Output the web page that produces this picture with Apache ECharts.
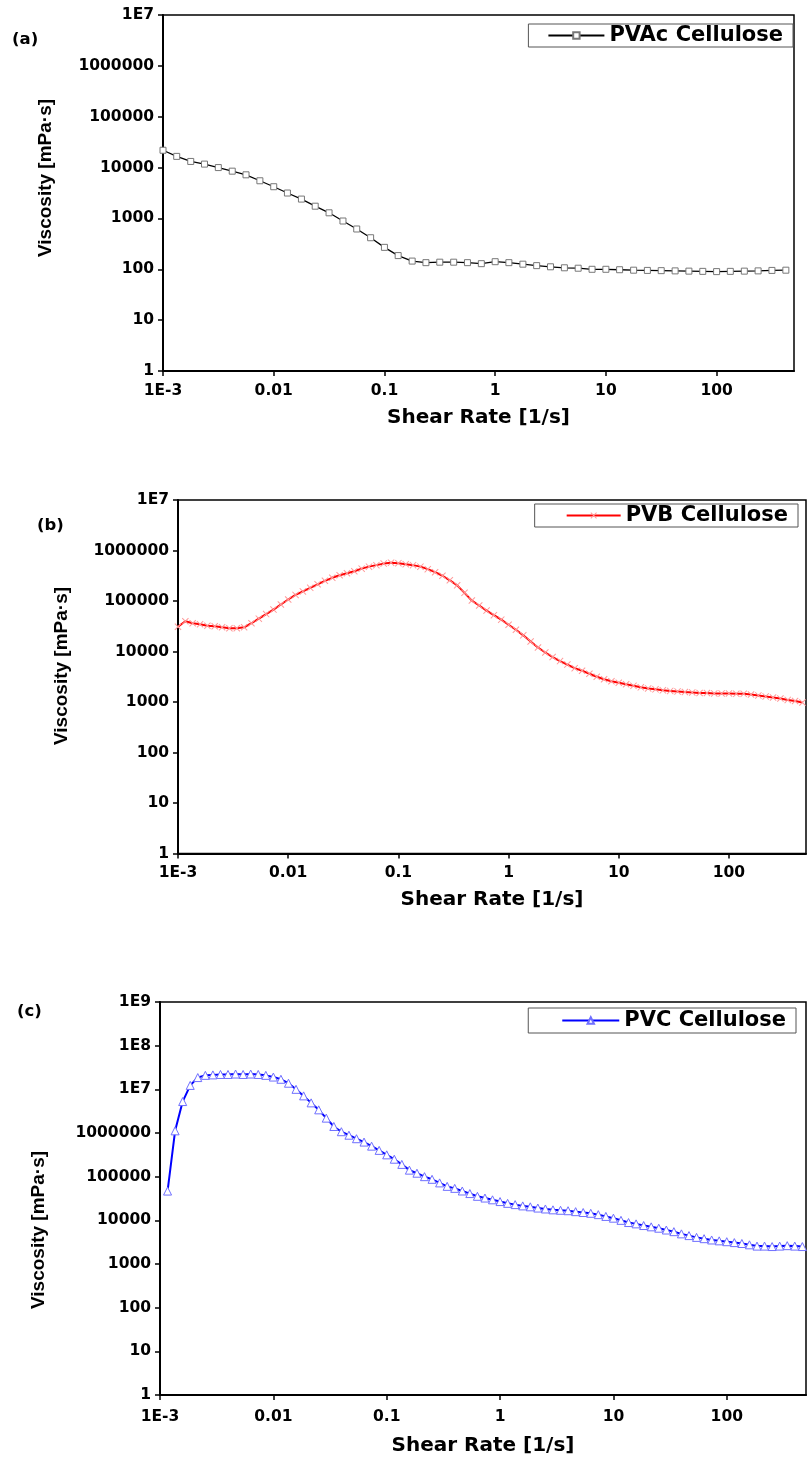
<!DOCTYPE html>
<html>
<head>
<meta charset="utf-8">
<script src="https://cdn.jsdelivr.net/npm/echarts@6/dist/echarts.min.js"></script>
<style>
  html, body { margin: 0; padding: 0; background: #ffffff; }
  #chart { width: 807px; height: 1473px; }
</style>
</head>
<body>
<div id="chart"></div>
<script>
// ---- Axis ticks -----------------------------------------------------------
const xTickValues = [0.001, 0.01, 0.1, 1, 10, 100];
const xTickLabels = ['1E-3', '0.01', '0.1', '1', '10', '100'];
const yTickLabels = ['1', '10', '100', '1000', '10000', '100000', '1000000', '1E7', '1E8', '1E9'];

// ---- (a) PVAc Cellulose ---------------------------------------------------
const shearRateA = [0.001, 0.00133, 0.00178, 0.00237, 0.00316, 0.00422, 0.00562, 0.0075,
  0.01, 0.0133, 0.0178, 0.0237, 0.0316, 0.0422, 0.0562, 0.075,
  0.1, 0.133, 0.178, 0.237, 0.316, 0.422, 0.562, 0.75,
  1, 1.33, 1.78, 2.37, 3.16, 4.22, 5.62, 7.5,
  10, 13.3, 17.8, 23.7, 31.6, 42.2, 56.2, 75,
  100, 133, 178, 237, 316, 422];
const viscosityA = [21900, 16600, 13200, 11700, 10000, 8500, 7200, 5500,
  4200, 3160, 2400, 1740, 1290, 890, 620, 417,
  270, 186, 145, 135, 138, 138, 135, 129,
  141, 135, 126, 118, 112, 107, 105, 100,
  100, 98, 96, 95, 94, 93, 92, 91,
  90, 91, 92, 93, 95, 96];

// ---- (b) PVB Cellulose ----------------------------------------------------
const shearRateB = [0.001, 0.001166, 0.001359, 0.001585, 0.001848, 0.002154, 0.002512, 0.002929, 0.003415, 0.003981, 0.004642, 0.005412, 0.00631, 0.007356, 0.008577,
  0.01, 0.01166, 0.01359, 0.01585, 0.01848, 0.02154, 0.02512, 0.02929, 0.03415, 0.03981, 0.04642, 0.05412, 0.0631, 0.07356, 0.08577,
  0.1, 0.1166, 0.1359, 0.1585, 0.1848, 0.2154, 0.2512, 0.2929, 0.3415, 0.3981, 0.4642, 0.5412, 0.631, 0.7356, 0.8577,
  1, 1.166, 1.359, 1.585, 1.848, 2.154, 2.512, 2.929, 3.415, 3.981, 4.642, 5.412, 6.31, 7.356, 8.577,
  10, 11.66, 13.59, 15.85, 18.48, 21.54, 25.12, 29.29, 34.15, 39.81, 46.42, 54.12, 63.1, 73.56, 85.77,
  100, 116.6, 135.9, 158.5, 184.8, 215.4, 251.2, 292.9, 341.5, 398.1, 464.2];
const viscosityB = [30900, 39800, 36300, 34700, 32400, 31600, 30200, 28800, 28800, 30200, 36300, 44700, 55000, 67600, 85100,
  107000, 132000, 155000, 182000, 214000, 251000, 288000, 324000, 355000, 389000, 437000, 479000, 513000, 550000, 575000,
  562000, 537000, 513000, 479000, 427000, 372000, 316000, 257000, 204000, 145000, 102000, 81300, 64600, 52500, 42700,
  33900, 26900, 20900, 15800, 12000, 9550, 7760, 6460, 5500, 4680, 4170, 3630, 3160, 2820, 2570,
  2400, 2240, 2090, 1950, 1860, 1780, 1700, 1660, 1620, 1580, 1550, 1510, 1510, 1480, 1480,
  1480, 1450, 1450, 1410, 1350, 1290, 1230, 1170, 1100, 1050, 980];

// ---- (c) PVC Cellulose ----------------------------------------------------
const shearRateC = [0.001166, 0.001359, 0.001585, 0.001848, 0.002154, 0.002512, 0.002929, 0.003415, 0.003981, 0.004642, 0.005412, 0.00631, 0.007356, 0.008577,
  0.01, 0.01166, 0.01359, 0.01585, 0.01848, 0.02154, 0.02512, 0.02929, 0.03415, 0.03981, 0.04642, 0.05412, 0.0631, 0.07356, 0.08577,
  0.1, 0.1166, 0.1359, 0.1585, 0.1848, 0.2154, 0.2512, 0.2929, 0.3415, 0.3981, 0.4642, 0.5412, 0.631, 0.7356, 0.8577,
  1, 1.166, 1.359, 1.585, 1.848, 2.154, 2.512, 2.929, 3.415, 3.981, 4.642, 5.412, 6.31, 7.356, 8.577,
  10, 11.66, 13.59, 15.85, 18.48, 21.54, 25.12, 29.29, 34.15, 39.81, 46.42, 54.12, 63.1, 73.56, 85.77,
  100, 116.6, 135.9, 158.5, 184.8, 215.4, 251.2, 292.9, 341.5, 398.1, 464.2];
const viscosityC = [46800, 1120000, 5250000, 12300000, 18600000, 20900000, 21400000, 21900000, 21900000, 22400000, 21900000, 22400000, 21900000, 20900000,
  19100000, 17000000, 13800000, 10000000, 7080000, 4900000, 3390000, 2190000, 1410000, 1070000, 890000, 740000, 620000, 500000, 400000,
  316000, 251000, 191000, 141000, 120000, 100000, 87000, 72000, 60000, 54000, 47000, 41000, 35500, 32400, 29500,
  26900, 24500, 22900, 21400, 20400, 19100, 18200, 17400, 17000, 16600, 15800, 15100, 14500, 13500, 12300,
  11200, 10000, 8900, 8300, 7600, 7100, 6600, 6000, 5500, 4900, 4470, 4070, 3800, 3550, 3390,
  3240, 3090, 2950, 2750, 2570, 2570, 2510, 2570, 2630, 2570, 2510];

const pairs = (xs, ys) => xs.map((x, i) => [x, ys[i]]);

// ---- Shared styling --------------------------------------------------------
const WIDE_BOLD = 'DejaVu Sans';
const tickFont = { fontFamily: WIDE_BOLD, fontWeight: 'bold', fontSize: 15.5, color: '#000' };

function decade(v) {
  const e = Math.log10(v);
  const r = Math.round(e);
  return Math.abs(e - r) < 1e-6 ? r : null;
}

function makeXAxis(gridIndex, labelMargin, nameGap) {
  return {
    type: 'log', logBase: 10, gridIndex,
    min: 0.001, max: 500,
    splitLine: { show: false },
    minorTick: { show: false },
    axisLine: { onZero: false, lineStyle: { color: '#000', width: 2 } },
    axisTick: { length: 5, lineStyle: { color: '#000', width: 1.5 }, customValues: xTickValues },
    axisLabel: {
      ...tickFont, margin: labelMargin, customValues: xTickValues,
      formatter: v => { const d = decade(v); return d === null ? '' : (xTickLabels[d + 3] || ''); }
    },
    name: 'Shear Rate [1/s]', nameLocation: 'middle', nameGap,
    nameTextStyle: { fontFamily: WIDE_BOLD, fontWeight: 'bold', fontSize: 20, color: '#000' }
  };
}

function makeYAxis(gridIndex, max) {
  return {
    type: 'log', logBase: 10, gridIndex,
    min: 1, max,
    splitNumber: 10,
    splitLine: { show: false },
    minorTick: { show: false },
    axisLine: { lineStyle: { color: '#000', width: 2 } },
    axisTick: { length: 5, lineStyle: { color: '#000', width: 1.5 } },
    axisLabel: {
      ...tickFont, margin: 9,
      formatter: v => { const d = decade(v); return d === null ? '' : (yTickLabels[d] || ''); }
    }
  };
}

function makeLegend(name, right, top, padding, itemWidth) {
  return {
    data: [name], right, top, padding, itemWidth, itemHeight: 8,
    borderColor: '#555', borderWidth: 1, borderRadius: 0,
    backgroundColor: '#fff',
    textStyle: { fontFamily: WIDE_BOLD, fontWeight: 'bold', fontSize: 21, color: '#000' }
  };
}

function yTitle(x, y) {
  return {
    type: 'text', x, y, rotation: Math.PI / 2,
    style: {
      text: 'Viscosity [mPa·s]', fontFamily: 'Liberation Sans', fontWeight: 'bold', fontSize: 19,
      fill: '#000', align: 'center', verticalAlign: 'middle'
    }
  };
}

function panelTag(text, x, y) {
  return {
    type: 'text', x, y,
    style: { text, fontFamily: WIDE_BOLD, fontWeight: 'bold', fontSize: 16.5, fill: '#000', align: 'left', verticalAlign: 'middle' }
  };
}

const crossSymbol = 'path://M0,1L1,0L5,4L9,0L10,1L6,5L10,9L9,10L5,6L1,10L0,9L4,5Z';

const option = {
  backgroundColor: '#ffffff',
  animation: false,
  grid: [
    { left: 163, top: 15, width: 631, height: 356, show: true, borderColor: '#000', borderWidth: 1.5 },
    { left: 178, top: 500, width: 628, height: 353.5, show: true, borderColor: '#000', borderWidth: 1.5 },
    { left: 160, top: 1002, width: 646, height: 393, show: true, borderColor: '#000', borderWidth: 1.5 }
  ],
  xAxis: [makeXAxis(0, 12, 37), makeXAxis(1, 11, 36), makeXAxis(2, 14, 41)],
  yAxis: [makeYAxis(0, 1e7), makeYAxis(1, 1e7), makeYAxis(2, 1e9)],
  legend: [
    makeLegend('PVAc Cellulose', 14, 24, [1, 10, 1, 19], 56),
    makeLegend('PVB Cellulose', 9, 504, [1, 10, 1, 31], 54),
    makeLegend('PVC Cellulose', 11, 1008, [2, 10, 2, 33], 57)
  ],
  series: [
    {
      name: 'PVAc Cellulose', type: 'line', xAxisIndex: 0, yAxisIndex: 0,
      data: pairs(shearRateA, viscosityA),
      showAllSymbol: true, symbol: 'rect', symbolSize: 6,
      lineStyle: { color: '#000', width: 1.3 },
      itemStyle: { color: '#fff', borderColor: '#777', borderWidth: 1 }
    },
    {
      name: 'PVB Cellulose', type: 'line', xAxisIndex: 1, yAxisIndex: 1,
      data: pairs(shearRateB, viscosityB),
      showAllSymbol: true, symbol: crossSymbol, symbolSize: 7,
      lineStyle: { color: '#ff0000', width: 2 },
      itemStyle: { color: '#ff9a9a' }
    },
    {
      name: 'PVC Cellulose', type: 'line', xAxisIndex: 2, yAxisIndex: 2,
      data: pairs(shearRateC, viscosityC),
      showAllSymbol: true, symbol: 'triangle', symbolSize: 8,
      lineStyle: { color: '#0000ff', width: 2 },
      itemStyle: { color: '#fff', borderColor: '#6f6fff', borderWidth: 1 }
    }
  ],
  graphic: [
    panelTag('(a)', 12, 40),
    panelTag('(b)', 37, 526),
    panelTag('(c)', 17, 1012),
    yTitle(46, 178),
    yTitle(62, 666),
    yTitle(39, 1230)
  ]
};

const chart = echarts.init(document.getElementById('chart'), null, { renderer: 'canvas' });
chart.setOption(option);
</script>
</body>
</html>
